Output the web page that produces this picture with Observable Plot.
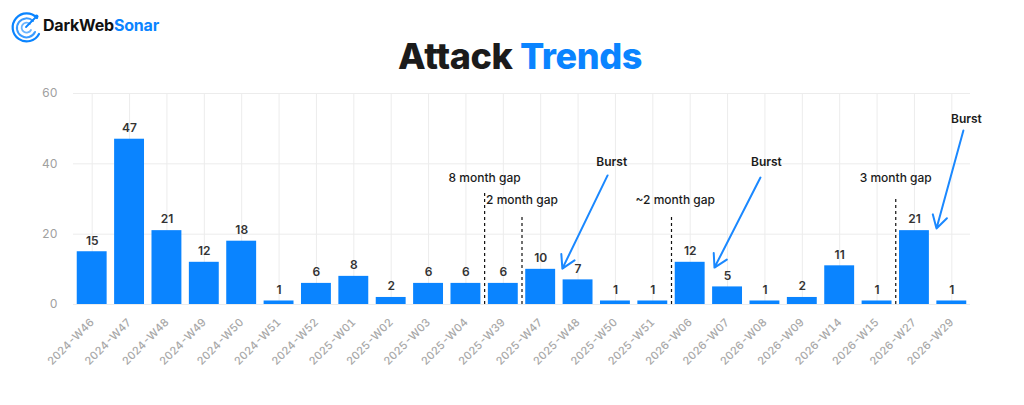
<!DOCTYPE html>
<html><head><meta charset="utf-8">
<script src="https://cdn.jsdelivr.net/npm/d3@7"></script>
<script src="https://cdn.jsdelivr.net/npm/@observablehq/plot@0.6"></script>
<style>
body{margin:0;background:#fff;font-family:Inter,"Noto Sans",sans-serif;}
#wrap{width:1024px;height:405px;position:relative;overflow:hidden;background:#fff}
#header{height:85px;position:relative}
#logoIcon{position:absolute;left:10px;top:10px}
#logoText{position:absolute;left:43px;top:17px;font-size:16px;line-height:16px;font-weight:700;color:#111;letter-spacing:-0.2px}
#title{position:absolute;left:16px;right:0;top:38px;text-align:center;font-size:36px;line-height:36px;font-weight:800;color:#1b1b1b;letter-spacing:-0.4px}
.blue{color:#0A84FF}
</style></head>
<body>
<div id="wrap">
  <div id="header">
    <svg id="logoIcon" width="32" height="34" viewBox="0 0 32 34">
      <g fill="none" stroke="#0A84FF" stroke-linecap="round">
        <path d="M27 8 A14 14 0 1 0 29 24" stroke-width="2.2"/>
        <path d="M23 11 A9.5 9.5 0 1 0 25 22" stroke-width="2" stroke="#3a9bff"/>
        <path d="M20 14 A5 5 0 1 0 21 20" stroke-width="1.8" stroke="#6ab4ff"/>
        <path d="M16 17 L26 7" stroke-width="1.8"/>
      </g>
      <circle cx="26.5" cy="6.5" r="2" fill="#0A84FF"/>
    </svg>
    <div id="logoText">DarkWeb<span class="blue">Sonar</span></div>
    <div id="title">Attack <span class="blue">Trends</span></div>
  </div>
  <div id="chart"></div>
</div>
<script>
const weeks = ["2024-W46","2024-W47","2024-W48","2024-W49","2024-W50","2024-W51","2024-W52","2025-W01","2025-W02","2025-W03","2025-W04","2025-W39","2025-W47","2025-W48","2025-W50","2025-W51","2026-W06","2026-W07","2026-W08","2026-W09","2026-W14","2026-W15","2026-W27","2026-W29"];
const counts = [15,47,21,12,18,1,6,8,2,6,6,6,10,7,1,1,12,5,1,2,11,1,21,1];
const yTicks = [0,20,40,60];

// gap annotations (x in bar-index units, between bars)
const gapX = [10.5, 11.5, 15.5, 21.5];
const gapTop = [32, 25, 25, 30];
const gapLabels = ["8 month gap","2 month gap","~2 month gap","3 month gap"];
const gapLabelX = [10.5, 11.5, 15.6, 21.5];
const gapLabelY = [35.8, 29.6, 29.6, 35.8];

// burst arrows
const burstX1 = [13.79, 17.88, 23.31];
const burstY1 = [36.7, 36.1, 49.5];
const burstX2 = [12.58, 16.65, 22.59];
const burstY2 = [10.2, 10.5, 21.6];
const burstLabelX = [13.9, 18.04, 23.39];
const burstLabelY = [40.4, 40.4, 52.6];

const data = weeks.map((w, i) => ({i, w, c: counts[i]}));
const gaps = gapX.map((x, k) => ({x, top: gapTop[k], label: gapLabels[k], lx: gapLabelX[k], ly: gapLabelY[k]}));
const bursts = burstX1.map((x1, k) => ({x1, y1: burstY1[k], x2: burstX2[k], y2: burstY2[k], lx: burstLabelX[k], ly: burstLabelY[k]}));
const idx = d3.range(weeks.length);

const chart = Plot.plot({
  width: 1024,
  height: 320,
  marginTop: 8,
  marginBottom: 101,
  marginLeft: 73,
  marginRight: 54,
  style: {fontFamily: "Inter, 'Noto Sans', sans-serif", fontSize: "12px", background: "#fff"},
  x: {type: "linear", domain: [-0.5, weeks.length - 0.5]},
  y: {domain: [0, 60]},
  marks: [
    Plot.gridY(yTicks, {stroke: "#ececec", strokeOpacity: 1}),
    Plot.gridX(idx, {stroke: "#ececec", strokeOpacity: 1}),
    Plot.rectY(data, {x1: d => d.i - 0.4, x2: d => d.i + 0.4, y: "c", fill: "#0A84FF"}),
    Plot.text(data, {x: "i", y: "c", text: d => String(d.c), dy: -11, fontSize: 12, fontWeight: 600, fill: "#333"}),
    Plot.ruleX(gaps, {x: "x", y1: 0, y2: "top", stroke: "#111", strokeWidth: 1.2, strokeDasharray: "3,3"}),
    Plot.text(gaps, {x: "lx", y: "ly", text: "label", fontSize: 12, fontWeight: 500, fill: "#1b1b1b"}),
    Plot.arrow(bursts, {x1: "x1", y1: "y1", x2: "x2", y2: "y2", stroke: "#1a88ff", strokeWidth: 2, headLength: 11}),
    Plot.text(bursts, {x: "lx", y: "ly", text: () => "Burst", fontSize: 12, fontWeight: 600, fill: "#1b1b1b"}),
    Plot.axisY({ticks: yTicks, tickSize: 0, tickPadding: 16, fontSize: 12, color: "#a0a0a0"}),
    Plot.axisX({ticks: idx, tickFormat: i => weeks[i], tickRotate: -45, tickSize: 0, tickPadding: 16, fontSize: 11, fontWeight: 500, color: "#a8a8a8"})
  ]
});
document.getElementById("chart").appendChild(chart);
</script>
</body></html>
